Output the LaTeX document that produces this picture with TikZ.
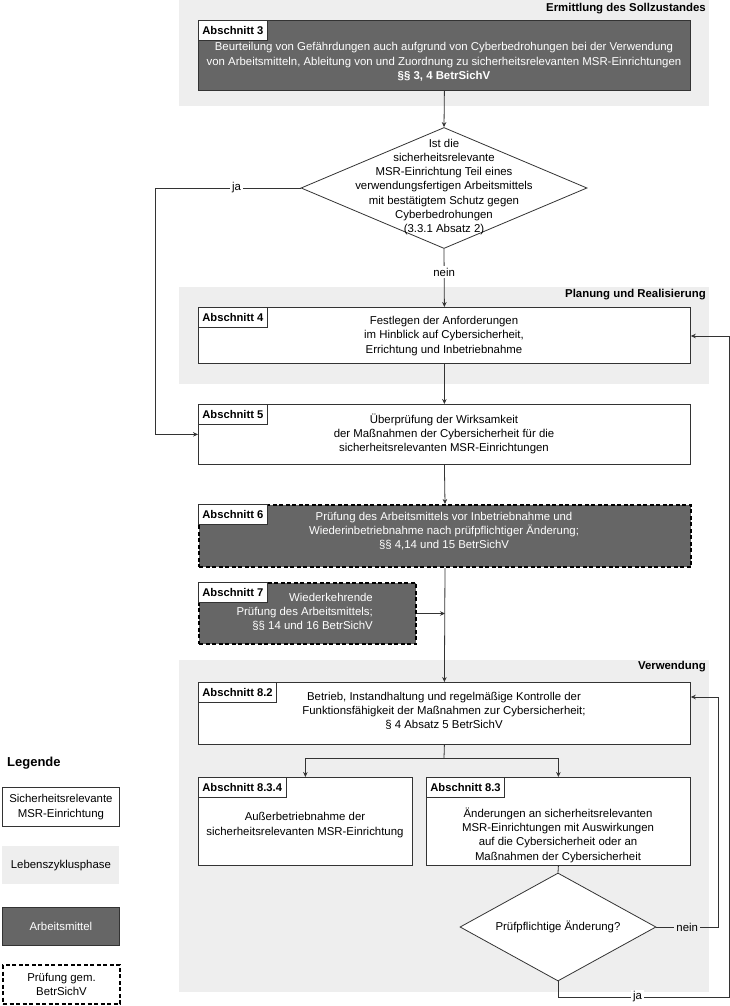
\documentclass[tikz,border=0pt]{standalone}
\usepackage{fontspec}
\setmainfont{Liberation Sans}
\usetikzlibrary{arrows.meta,shapes.geometric}
\definecolor{dark}{HTML}{666666}
\definecolor{phase}{HTML}{EEEEEE}
\definecolor{ln}{HTML}{333333}
\begin{document}
\begin{tikzpicture}[x=1pt,y=-1pt,
  every node/.style={font=\fontsize{11.4}{14.3}\selectfont, text=black},
  box/.style={draw=ln, fill=white, line width=0.8pt, inner sep=0pt, anchor=north west},
  darkbox/.style={box, fill=dark},
  pruef/.style={draw=black, dash pattern=on 4pt off 2.5pt, line width=2pt},
  btext/.style={align=center, inner sep=0pt},
  wtext/.style={btext, text=white},
  tab/.style={draw=ln, fill=white, line width=0.8pt, font=\fontsize{11.2}{13}\selectfont\bfseries, inner xsep=4pt, inner ysep=0pt, minimum height=20pt, anchor=north west},
  phasebg/.style={fill=phase, draw=none},
  ptitle/.style={font=\fontsize{11.4}{13}\selectfont\bfseries, anchor=east, inner sep=0pt},
  conn/.style={draw=ln, line width=0.8pt},
  arr/.style={conn, -{Stealth[length=5pt,width=4.5pt]}},
  lbl/.style={fill=white, inner sep=2pt},
  lblg/.style={fill=phase, inner sep=2pt},
  dia/.style={draw=ln, fill=white, line width=0.8pt, diamond, inner sep=0pt}
]
\useasboundingbox (0,0) rectangle (730,1006);

% phases
\fill[phasebg] (179,0) rectangle (709,106);
\fill[phasebg] (179,287) rectangle (709,384);
\fill[phasebg] (179,660) rectangle (709,992);
\node[ptitle] (p1) at (706,9) {Ermittlung des Sollzustandes};
\node[ptitle] (p2) at (706,295) {Planung und Realisierung};
\node[ptitle] (p3) at (706,667) {Verwendung};

% Abschnitt 3
\node[darkbox, minimum width=492pt, minimum height=70pt] (b3) at (198,20) {};
\node[tab] (t3) at (b3.north west) {Abschnitt 3};
\node[wtext] (b3t) at (444,62) {Beurteilung von Gefährdungen auch aufgrund von Cyberbedrohungen bei der Verwendung\\von Arbeitsmitteln, Ableitung von und Zuordnung zu sicherheitsrelevanten MSR-Einrichtungen\\\textbf{§§ 3, 4 BetrSichV}};

% decision 1
\node[dia, minimum width=286pt, minimum height=121pt] (d1) at (444,188) {};
\node[btext, font=\fontsize{11.4}{14.3}\selectfont] (d1t) at (444,187) {Ist die\\sicherheitsrelevante\\MSR-Einrichtung Teil eines\\verwendungsfertigen Arbeitsmittels\\mit bestätigtem Schutz gegen\\Cyberbedrohungen\\(3.3.1 Absatz 2)};

% Abschnitt 4
\node[box, minimum width=492pt, minimum height=56pt] (b4) at (198,307) {};
\node[tab] (t4) at (b4.north west) {Abschnitt 4};
\node[btext] (b4t) at (444,336) {Festlegen der Anforderungen\\im Hinblick auf Cybersicherheit,\\Errichtung und Inbetriebnahme};

% Abschnitt 5
\node[box, minimum width=492pt, minimum height=60pt] (b5) at (198,404) {};
\node[tab] (t5) at (b5.north west) {Abschnitt 5};
\node[btext] (b5t) at (444,434) {Überprüfung der Wirksamkeit\\der Maßnahmen der Cybersicherheit für die\\sicherheitsrelevanten MSR-Einrichtungen};

% Abschnitt 6
\node[darkbox, pruef, minimum width=492pt, minimum height=62pt] (b6) at (198,504) {};
\node[tab] (t6) at (b6.north west) {Abschnitt 6};
\node[wtext] (b6t) at (444,531) {Prüfung des Arbeitsmittels vor Inbetriebnahme und\\Wiederinbetriebnahme nach prüfpflichtiger Änderung;\\§§ 4,14 und 15 BetrSichV};

% Abschnitt 7
\node[darkbox, pruef, minimum width=217pt, minimum height=61pt] (b7) at (198,582) {};
\node[tab] (t7) at (b7.north west) {Abschnitt 7};
\node[wtext, align=right, anchor=east] (b7t) at (373,612) {Wiederkehrende\\Prüfung des Arbeitsmittels;\\§§ 14 und 16 BetrSichV};

% Abschnitt 8.2
\node[box, minimum width=492pt, minimum height=62pt] (b82) at (198,682) {};
\node[tab] (t82) at (b82.north west) {Abschnitt 8.2};
\node[btext] (b82t) at (444,711) {Betrieb, Instandhaltung und regelmäßige Kontrolle der\\Funktionsfähigkeit der Maßnahmen zur Cybersicherheit;\\§ 4 Absatz 5 BetrSichV};

% Abschnitt 8.3.4
\node[box, minimum width=214pt, minimum height=88pt] (b834) at (198,777) {};
\node[tab] (t834) at (b834.north west) {Abschnitt 8.3.4};
\node[btext] (b834t) at (305,825) {Außerbetriebnahme der\\sicherheitsrelevanten MSR-Einrichtung};

% Abschnitt 8.3
\node[box, minimum width=264pt, minimum height=88pt] (b83) at (426,777) {};
\node[tab] (t83) at (b83.north west) {Abschnitt 8.3};
\node[btext] (b83t) at (558,835) {Änderungen an sicherheitsrelevanten\\MSR-Einrichtungen mit Auswirkungen\\auf die Cybersicherheit oder an\\Maßnahmen der Cybersicherheit};

% decision 2
\node[dia, minimum width=196pt, minimum height=108pt] (d2) at (558,927) {};
\node[btext] (d2t) at (558,927) {Prüfpflichtige Änderung?};

% connectors
\coordinate (jaL) at (155,188);
\coordinate (split) at (444,758);
\coordinate (nR) at (718,927);
\coordinate (nT) at (718,697);
\coordinate (jB) at (558,997);
\coordinate (jR) at (729,997);
\coordinate (jT) at (729,336);

\draw[arr] (b3.south) -- (d1.north);
\draw[arr] (d1.south) -- node[lbl, pos=0.4] (nein1) {nein} (b4.north);
\draw[arr] (d1.west) -- node[lbl, pos=0.44] (ja1) {ja} (jaL) |- (b5.west);
\draw[arr] (b4.south) -- (b5.north);
\draw[arr] (b5.south) -- (b6.north);
\draw[arr] (b6.south) -- (b82.north);
\draw[arr] (b7.east) -- (b7.east -| b6.south);
\draw[conn] (b82.south) -- (split);
\draw[arr] (split) -| (b834.north);
\draw[arr] (split) -| (b83.north);
\draw[conn] (b83.south) -- (d2.north);
\draw[arr] (d2.east) -- node[lblg, pos=0.5] (nein2) {nein} (nR) -- (nT) -- (nT -| b82.east);
\draw[arr] (d2.south) -- (jB) -- node[lbl, pos=0.465] (ja2) {ja} (jR) -- (jT) -- (jT -| b4.east);

% legend
\node[anchor=west, inner sep=0pt, font=\fontsize{13}{15}\selectfont\bfseries] (leg) at (7,763) {Legende};
\node[box, minimum width=117pt, minimum height=39pt, align=center] (l1) at (2,787) {Sicherheitsrelevante\\MSR-Einrichtung};
\node[box, draw=none, fill=phase, minimum width=117pt, minimum height=38pt, align=center] (l2) at (2,846) {Lebenszyklusphase};
\node[darkbox, text=white, minimum width=117pt, minimum height=38pt, align=center] (l3) at (2,907) {Arbeitsmittel};
\node[box, pruef, minimum width=117pt, minimum height=39pt, align=center] (l4) at (2,964) {Prüfung gem.\\BetrSichV};
\end{tikzpicture}
\end{document}
